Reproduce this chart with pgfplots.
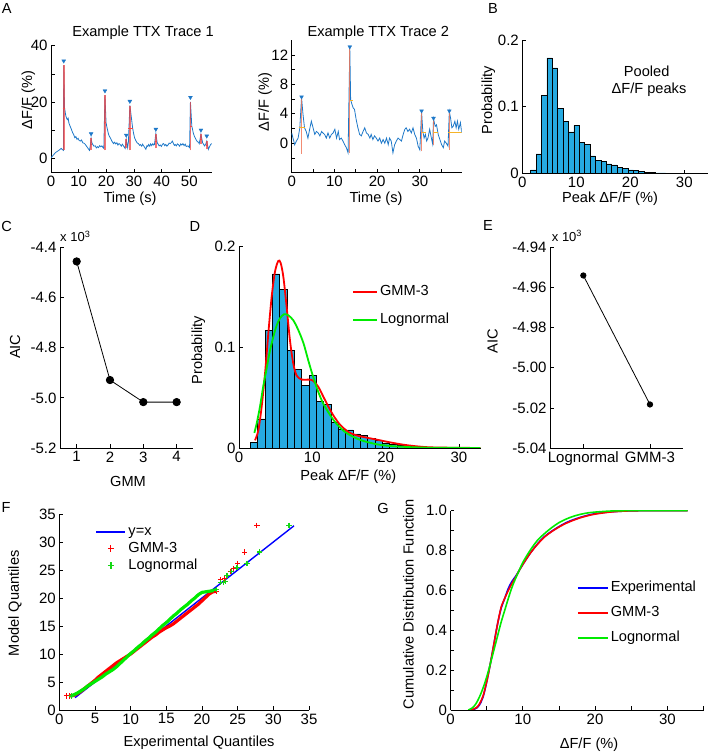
\documentclass[border=0pt]{standalone}
\usepackage{fontspec}
\setmainfont{Liberation Sans}
\usepackage{pgfplots}
\usepackage{pgfplotstable}
\pgfplotsset{compat=1.18}

\definecolor{tracecol}{RGB}{30,120,200}
\definecolor{promred}{RGB}{240,70,70}
\definecolor{promor}{RGB}{240,120,90}
\definecolor{promyel}{RGB}{245,180,40}
\definecolor{histcol}{RGB}{38,170,225}
\definecolor{gred}{RGB}{255,0,0}
\definecolor{ggreen}{RGB}{0,235,0}
\definecolor{gmark}{RGB}{20,215,20}
\definecolor{gblue}{RGB}{0,0,255}

\pgfplotstableread{
x y
2.05 0.0053
3.05 0.029
4.05 0.117
5.05 0.173
6.05 0.158
7.05 0.097
8.05 0.078
9.05 0.062
10.05 0.072
11.05 0.046
12.05 0.0435
13.05 0.026
14.05 0.019
15.05 0.018
16.05 0.014
17.05 0.0126
18.05 0.0093
19.05 0.0076
20.05 0.005
21.05 0.004
22.05 0.003
23.05 0.0017
24.05 0.001
25.05 0.0008
26.05 0.0005
27.05 0.0003
28.05 0.0002
29.05 0.0002
30.05 0.0001
31.05 0.0001
32.05 0.0002
}\histtable

\newcommand{\fs}{\fontsize{14.6}{17}\selectfont}
\newcommand{\ft}{\fontsize{15}{17}\selectfont}

\pgfplotsset{
  base/.style={
    scale only axis, anchor=south west,
    axis x line*=bottom, axis y line*=left,
    tick align=inside, major tick length=3.5pt,
    axis line style={line width=0.7pt, black},
    every tick/.style={line width=0.7pt, black},
    tick label style={font=\ft},
    legend cell align=left,
  },
  hist/.style={ybar, bar width=1, bar shift=0pt, fill=histcol, draw=black, line width=0.5pt},
}

\begin{document}
\begin{tikzpicture}[x=1pt,y=1pt,font=\fs]
\path[use as bounding box] (0,0) rectangle (708,752);

% ---------------- A: Trace 1
\begin{axis}[base, at={(51pt,579.3pt)}, width=161pt, height=127pt,
  xmin=0, xmax=58.2, ymin=-5, ymax=40,
  xtick={0,10,20,30,40,50}, xticklabels={0,10,20,30,40,50},
  ytick={0,10,20,30,40}, yticklabels={0,,20,,40}]
\addplot[tracecol, line width=0.8pt] coordinates {
(0.1,0.35)(0.8,1.2)(1.6,2.1)(2.2,2.5)(2.8,2.9)(3.3,3.3)(3.7,3.6)(4.1,3.2)(4.5,2.9)(4.6,33.0)(4.9,18.0)(5.2,16.0)(5.4,15.0)(5.7,14.2)(5.9,13.8)(6.2,14.3)(6.5,12.5)(6.9,11.5)(7.2,10.8)(7.4,10.3)(7.8,9.2)(8.2,8.5)(8.6,7.4)(9.0,7.8)(9.4,6.8)(9.8,7.2)(10.1,6.5)(10.6,6.2)(11.0,6.6)(11.5,5.6)(12.0,5.4)(12.4,5.0)(12.9,4.3)(13.4,3.6)(13.9,2.9)(14.2,4.5)(14.5,7.2)(14.8,5.5)(15.1,5.0)(15.5,4.4)(16.0,4.5)(16.4,3.8)(16.8,4.2)(17.2,3.9)(17.6,4.6)(18.0,4.2)(18.4,4.5)(18.8,3.9)(19.1,3.6)(19.5,22.4)(19.9,12.7)(20.2,11.2)(20.4,10.3)(20.8,8.6)(21.1,7.9)(21.4,7.4)(22.0,6.2)(22.6,5.3)(23.0,5.8)(23.4,5.2)(23.8,5.6)(24.2,4.8)(24.6,5.3)(25.0,5.0)(25.4,4.4)(25.8,5.1)(26.2,4.5)(26.8,3.6)(27.2,6.8)(27.7,3.9)(28.0,6.0)(28.5,18.8)(29.0,15.0)(29.5,10.9)(29.8,9.2)(30.2,7.4)(30.6,6.5)(31.1,5.6)(31.6,5.3)(32.0,4.7)(32.3,5.0)(32.8,4.4)(33.1,5.1)(33.5,4.5)(33.9,3.9)(34.3,3.3)(34.7,4.6)(35.0,4.3)(35.3,5.0)(35.7,4.4)(36.0,5.2)(36.4,4.6)(36.8,5.3)(37.1,4.8)(37.4,5.0)(37.9,8.8)(38.4,5.6)(38.8,5.0)(39.1,4.5)(39.5,4.8)(39.9,4.3)(40.3,5.1)(40.7,5.3)(41.1,4.6)(41.5,5.0)(41.9,4.4)(42.3,4.8)(42.7,5.5)(43.1,5.3)(43.5,5.7)(43.9,6.2)(44.3,5.2)(44.6,4.7)(44.9,5.0)(45.3,4.5)(45.7,5.2)(46.1,4.9)(46.5,4.4)(46.9,5.2)(47.3,4.8)(47.7,5.3)(48.1,4.6)(48.5,5.1)(48.9,4.3)(49.5,4.5)(50.1,3.9)(50.4,20.1)(50.9,11.5)(51.2,10.2)(51.4,9.2)(51.8,8.0)(52.1,7.4)(52.5,6.6)(52.9,6.0)(53.3,5.8)(53.6,5.3)(54.2,8.6)(54.8,5.6)(55.2,5.0)(55.5,4.5)(55.9,5.0)(56.3,6.2)(56.9,3.3)(57.3,4.2)(57.7,5.0)(58.1,5.3)};
\addplot[promred, opacity=0.75, line width=1.6pt] coordinates {(4.6,2.9)(4.6,33.0)};
\addplot[promred, opacity=0.75, line width=1.6pt] coordinates {(14.5,2.9)(14.5,7.2)};
\addplot[promred, opacity=0.75, line width=1.6pt] coordinates {(19.5,2.9)(19.5,22.4)};
\addplot[promred, opacity=0.75, line width=1.6pt] coordinates {(27.2,3.6)(27.2,6.8)};
\addplot[promred, opacity=0.75, line width=1.6pt] coordinates {(28.5,2.9)(28.5,18.8)};
\addplot[promred, opacity=0.75, line width=1.6pt] coordinates {(37.9,3.6)(37.9,8.8)};
\addplot[promred, opacity=0.75, line width=1.6pt] coordinates {(50.4,2.9)(50.4,20.1)};
\addplot[promred, opacity=0.75, line width=1.6pt] coordinates {(54.2,5.3)(54.2,8.6)};
\addplot[promred, opacity=0.75, line width=1.6pt] coordinates {(56.3,3.3)(56.3,6.2)};
\addplot[promred, line width=0.8pt] coordinates {(4.2,17.95)(5.1,17.95)};
\addplot[promred, line width=0.8pt] coordinates {(14.3,5.05)(14.8,5.05)};
\addplot[promred, line width=0.8pt] coordinates {(19.2,12.65)(20.0,12.65)};
\addplot[promred, line width=0.8pt] coordinates {(27.0,5.2)(27.4,5.2)};
\addplot[promred, line width=0.8pt] coordinates {(28.0,10.85)(29.5,10.85)};
\addplot[promred, line width=0.8pt] coordinates {(37.7,6.2)(38.2,6.2)};
\addplot[promred, line width=0.8pt] coordinates {(50.2,11.5)(51.0,11.5)};
\addplot[promred, line width=0.8pt] coordinates {(54.0,6.95)(54.5,6.95)};
\addplot[promred, line width=0.8pt] coordinates {(56.1,4.75)(56.6,4.75)};
\addplot[only marks, mark=triangle*, mark size=2.2pt, mark options={rotate=180, fill=tracecol, draw=tracecol}] coordinates {
(4.6,34.6)(14.5,8.8)(19.5,24.0)(27.2,8.3)(28.5,20.3)(37.9,10.4)(50.4,21.7)(54.2,10.1)(56.3,8.0)};
\end{axis}

% ---------------- A: Trace 2
\begin{axis}[base, at={(291.7pt,579.3pt)}, width=170pt, height=132.5pt,
  xmin=0, xmax=39.8, ymin=-4, ymax=14,
  xtick={0,5,10,15,20,25,30,35}, xticklabels={0,,10,,20,,30,},
  ytick={-2,0,2,4,6,8,10,12}, yticklabels={,0,,4,,8,,12}]
\addplot[tracecol, line width=0.8pt] coordinates {
(0,1.4)(0.3,0.7)(0.7,-0.2)(1.1,0.3)(1.5,0.7)(1.9,2.1)(2.3,6.2)(2.65,3.9)(3.0,2.1)(3.4,1.6)(3.8,0.7)(4.2,1.9)(4.6,3.0)(5.0,2.1)(5.4,1.2)(5.8,1.6)(6.2,1.4)(6.6,1.0)(7.0,1.6)(7.3,1.4)(7.7,1.2)(8.1,0.7)(8.5,1.4)(8.9,0.7)(9.3,1.2)(9.7,1.4)(10.1,1.9)(10.5,0.7)(10.9,1.6)(11.2,0.5)(11.6,0.7)(12.0,0.3)(12.4,-0.2)(12.8,-0.6)(13.2,-1.3)(13.6,13.0)(13.8,5.9)(14.1,5.3)(14.4,4.8)(14.7,4.6)(15.1,3.2)(15.5,2.1)(15.9,1.2)(16.3,1.0)(16.7,1.6)(17.1,2.1)(17.5,1.4)(17.9,1.2)(18.3,0.7)(18.6,1.2)(19.0,0.5)(19.4,1.0)(19.8,0.7)(20.2,0.3)(20.6,0.7)(21.0,0.0)(21.4,0.5)(21.8,0.0)(22.2,0.7)(22.6,-0.2)(22.9,0.7)(23.3,0.3)(23.7,-1.3)(24.1,-0.2)(24.5,0.3)(24.9,0.7)(25.3,0.5)(25.7,0.3)(26.1,1.2)(26.5,1.9)(26.8,2.1)(27.2,1.6)(27.6,1.9)(28.0,1.4)(28.4,2.1)(28.8,1.2)(29.2,0.7)(29.6,-0.4)(30.0,-0.9)(30.4,4.3)(30.7,1.6)(31.0,0.7)(31.3,1.2)(31.6,0.3)(31.9,0.7)(32.3,1.9)(32.7,0.7)(33.0,-0.1)(33.2,3.3)(33.6,2.3)(33.9,2.5)(34.3,1.2)(34.7,0.5)(35.1,-0.2)(35.5,-0.6)(35.8,0.3)(36.2,0.0)(36.6,-0.4)(36.9,4.3)(37.2,3.4)(37.5,2.1)(37.8,2.3)(38.2,3.0)(38.5,2.1)(38.8,3.0)(39.1,1.9)(39.5,2.8)(39.8,1.4)};
\addplot[promor, opacity=0.85, line width=1.2pt] coordinates {(2.3,-1.45)(2.3,6.2)};
\addplot[promor, opacity=0.85, line width=1.2pt] coordinates {(13.6,-1.3)(13.6,13.0)};
\addplot[promor, opacity=0.85, line width=1.2pt] coordinates {(30.4,-1.1)(30.4,4.3)};
\addplot[promor, opacity=0.85, line width=1.2pt] coordinates {(33.2,-0.2)(33.2,3.3)};
\addplot[promor, opacity=0.85, line width=1.2pt] coordinates {(36.9,-0.9)(36.9,4.3)};
\addplot[promyel, line width=1pt] coordinates {(1.6,2.2)(3.0,2.2)};
\addplot[promyel, line width=1pt] coordinates {(13.6,5.8)(14.4,5.8)};
\addplot[promyel, line width=1pt] coordinates {(30.4,1.5)(31.5,1.5)};
\addplot[promyel, line width=1pt] coordinates {(33.1,1.4)(34.3,1.4)};
\addplot[promyel, line width=1pt] coordinates {(36.6,1.5)(39.8,1.5)};
\addplot[only marks, mark=triangle*, mark size=2.2pt, mark options={rotate=180, fill=tracecol, draw=tracecol}] coordinates {
(2.3,6.3)(13.6,13.1)(30.4,4.4)(33.2,3.4)(36.9,4.4)};
\end{axis}

% ---------------- B
\begin{axis}[base, at={(522.3pt,578.7pt)}, width=186.3pt, height=133.3pt,
  xmin=0, xmax=34.5, ymin=0, ymax=0.2,
  xtick={0,10,20,30}, xticklabels={0,10,20,30},
  ytick={0,0.1,0.2}, yticklabels={0,0.1,0.2}]
\addplot[hist] table[x=x,y=y] {\histtable};
\end{axis}

% ---------------- C
\begin{axis}[base, at={(60pt,304pt)}, width=133.3pt, height=200.6pt,
  xmin=0.5, xmax=4.5, ymin=-5.2, ymax=-4.4,
  xtick={1,2,3,4}, xticklabels={1,2,3,4},
  ytick={-5.2,-5.0,-4.8,-4.6,-4.4}, yticklabels={-5.2,-5.0,-4.8,-4.6,-4.4}, clip=false]
\addplot[black, line width=0.8pt, mark=*, mark size=3.7pt, mark options={fill=black}] coordinates {(1,-4.456)(2,-4.929)(3,-5.017)(4,-5.017)};
\end{axis}

% ---------------- D
\begin{axis}[base, at={(239pt,304pt)}, width=242pt, height=201.2pt,
  xmin=0, xmax=33, ymin=0, ymax=0.2,
  xtick={0,10,20,30}, xticklabels={0,10,20,30},
  ytick={0,0.1,0.2}, yticklabels={0,0.1,0.2},
  legend style={draw=none, fill=none, at={(0.455,0.83)}, anchor=north west, row sep=11pt,
    nodes={inner sep=2pt, text height=10pt, text depth=3pt}, font=\fs},
  legend image code/.code={\draw[#1] (0pt,0pt) -- (24pt,0pt);}]
\addplot[hist, forget plot] table[x=x,y=y] {\histtable};
\addplot[gred, line width=1.8pt, smooth] coordinates {
(2.18,0.0076)(2.64,0.0176)(3.09,0.041)(3.55,0.074)(4.0,0.114)(4.45,0.150)(4.9,0.175)(5.36,0.186)(5.68,0.184)(6.05,0.170)(6.5,0.140)(6.95,0.107)(7.4,0.084)(7.86,0.072)(8.55,0.068)(9.45,0.068)(10.1,0.067)(10.8,0.061)(11.5,0.051)(12.2,0.041)(12.9,0.032)(13.8,0.023)(14.9,0.016)(16.0,0.0126)(17.4,0.0103)(18.8,0.0083)(20.6,0.0056)(22.4,0.0033)(24.2,0.0017)(26,0.0007)(28.8,0.0003)(32.9,0.0)};
\addlegendentry{GMM-3}
\addplot[ggreen, line width=1.8pt, smooth] coordinates {
(2.09,0.015)(2.4,0.024)(2.86,0.041)(3.3,0.061)(3.77,0.079)(4.2,0.096)(4.7,0.111)(5.14,0.122)(5.6,0.129)(6.14,0.133)(6.7,0.132)(7.4,0.127)(8.1,0.117)(8.8,0.104)(9.45,0.087)(10.1,0.071)(10.8,0.056)(11.5,0.044)(12.4,0.033)(13.3,0.024)(14.45,0.016)(15.6,0.011)(16.95,0.007)(18.8,0.0037)(20.6,0.002)(22.9,0.001)(26,0.0003)(32.9,0.0)};
\addlegendentry{Lognormal}
\end{axis}

% ---------------- E
\begin{axis}[base, at={(550pt,304pt)}, width=133.3pt, height=200.6pt,
  xmin=0.5, xmax=2.5, ymin=-5.04, ymax=-4.94,
  xtick={1,2}, xticklabels={Lognormal,GMM-3},
  ytick={-5.04,-5.02,-5.00,-4.98,-4.96,-4.94}, yticklabels={-5.04,-5.02,-5.00,-4.98,-4.96,-4.94}, clip=false]
\addplot[black, line width=0.8pt, mark=*, mark size=2.7pt, mark options={fill=black}] coordinates {(1,-4.954)(2,-5.0183)};
\end{axis}

% ---------------- F
\begin{axis}[base, at={(59.3pt,42pt)}, width=249.7pt, height=196pt,
  xmin=0, xmax=35, ymin=0, ymax=35,
  xtick={0,5,10,15,20,25,30,35}, xticklabels={0,5,10,15,20,25,30,35},
  ytick={0,5,10,15,20,25,30,35}, yticklabels={0,5,10,15,20,25,30,35},
  legend style={draw=none, fill=none, at={(0.132,0.965)}, anchor=north west, row sep=0pt,
    nodes={inner sep=2pt, text height=10pt, text depth=3pt}, font=\fs},
  legend image code/.code={\draw[mark repeat=2, mark phase=2, #1] plot coordinates {(0pt,0pt) (14.5pt,0pt) (29pt,0pt)};}]
\addlegendimage{legend image code/.code={\draw[color=gblue, line width=2pt] (0pt,0pt) -- (29pt,0pt);}}
\addlegendentry{y=x}
\addlegendimage{only marks, mark=+, gred, mark size=3.2pt, mark options={line width=1pt}}
\addlegendentry{GMM-3}
\addlegendimage{only marks, mark=+, gmark, mark size=3.2pt, mark options={line width=1.2pt}}
\addlegendentry{Lognormal}
\addplot[color=gblue, line width=1.4pt, forget plot] coordinates {(2.2,2.2)(32.9,32.9)};
\addplot[color=gred, line width=3.2pt, forget plot] coordinates {
(1.4,2.5)(2.0,2.6)(2.5,2.9)(3.0,3.3)(3.5,3.8)(4.0,4.3)(4.5,4.8)(5.0,5.3)(5.5,5.9)(6.0,6.4)(6.5,6.9)(7.0,7.4)(7.5,7.9)(8.0,8.4)(8.5,8.8)(9.0,9.2)(9.5,9.6)(10,10.0)(10.5,10.5)(11,11.0)(11.5,11.5)(12,12.0)(12.5,12.5)(13,13.0)(13.5,13.4)(14,13.9)(14.5,14.3)(15,14.7)(15.5,15.0)(16,15.4)(16.5,15.9)(17,16.4)(17.5,16.9)(18,17.4)(18.5,17.9)(19,18.4)(19.5,18.9)(20,19.5)(20.5,20.1)(21,20.7)(21.5,21.1)(22,21.2)};
\addplot[only marks, mark=+, gred, mark size=2.6pt, mark options={line width=1pt}, forget plot] coordinates {
(1.0,2.5)(1.4,2.5)(22.0,21.2)(22.6,23.3)(23.2,23.5)(24.0,24.8)(24.4,25.3)(25.0,26.2)(26.0,28.2)(27.7,33.0)};
\addplot[color=ggreen, line width=3.2pt, forget plot] coordinates {
(1.7,2.5)(2.0,2.7)(2.5,3.0)(3.0,3.4)(3.5,3.8)(4.0,4.3)(4.5,4.7)(5.0,5.1)(5.5,5.5)(6.0,5.9)(6.5,6.4)(7.0,6.8)(7.5,7.2)(8,7.7)(8.5,8.3)(9,8.9)(9.5,9.5)(10,10.1)(10.5,10.6)(11,11.2)(11.5,11.7)(12,12.3)(12.5,12.8)(13,13.4)(13.5,13.9)(14,14.5)(14.5,15.1)(15,15.6)(15.5,16.2)(16,16.8)(16.5,17.3)(17,17.9)(17.5,18.4)(18,18.9)(18.5,19.5)(19,20.0)(19.5,20.6)(20,21.0)(20.5,21.1)(21,21.2)(21.5,21.3)(22,21.5)};
\addplot[only marks, mark=+, gmark, mark size=2.6pt, mark options={line width=1.2pt}, forget plot] coordinates {
(1.7,2.5)(22.0,21.5)(22.6,22.7)(23.0,22.8)(23.3,22.9)(23.5,24.0)(24.1,24.8)(24.9,25.4)(26.3,26.2)(28.1,28.2)(32.2,33.0)};
\end{axis}

% ---------------- G
\begin{axis}[base, at={(450.5pt,42pt)}, width=253pt, height=199.3pt,
  xmin=0, xmax=35, ymin=0, ymax=1,
  xtick={0,5,10,15,20,25,30,35}, xticklabels={0,,10,,20,,30,},
  ytick={0,0.1,0.2,0.3,0.4,0.5,0.6,0.7,0.8,0.9,1.0}, yticklabels={0,,0.2,,0.4,,0.6,,0.8,,1.0},
  legend style={draw=none, fill=none, at={(0.488,0.665)}, anchor=north west, row sep=8pt,
    nodes={inner sep=2pt, text height=10pt, text depth=3pt}, font=\fs},
  legend image code/.code={\draw[#1] (0pt,0pt) -- (30pt,0pt);}]
\addplot[gblue, line width=1.6pt, smooth] coordinates {
(2.9,0)(3.3,0.004)(3.7,0.012)(4.0,0.025)(4.5,0.065)(5.0,0.14)(5.5,0.23)(6.0,0.33)(6.5,0.43)(7.0,0.51)(7.5,0.56)(8.0,0.61)(8.5,0.645)(9.0,0.67)(9.5,0.7)(10,0.73)(11,0.785)(12,0.832)(13,0.87)(14,0.897)(15,0.92)(16,0.94)(17,0.955)(18,0.967)(19,0.977)(20,0.985)(22,0.994)(24,0.998)(26,1.0)(32.8,1.0)};
\addlegendentry{Experimental}
\addplot[gred, line width=1.6pt, smooth] coordinates {
(2.8,0.0)(3.2,0.005)(3.6,0.012)(4.0,0.03)(4.5,0.07)(5.0,0.14)(5.5,0.23)(6.0,0.33)(6.5,0.43)(7.0,0.515)(7.5,0.56)(8.0,0.6)(8.5,0.635)(9.0,0.665)(9.5,0.7)(10,0.73)(11,0.785)(12,0.83)(13,0.868)(14,0.895)(15,0.918)(16,0.937)(17,0.952)(18,0.965)(19,0.975)(20,0.983)(22,0.993)(24,0.998)(26,1.0)(32.8,1.0)};
\addlegendentry{GMM-3}
\addplot[ggreen, line width=1.6pt, smooth] coordinates {
(2.45,0.0)(3.0,0.01)(3.5,0.03)(4.0,0.065)(4.5,0.11)(5.0,0.165)(5.5,0.23)(6.0,0.3)(6.5,0.37)(7.0,0.44)(7.5,0.5)(8.0,0.56)(8.5,0.615)(9.0,0.66)(9.5,0.7)(10.0,0.74)(11,0.8)(12,0.85)(13,0.885)(14,0.915)(15,0.94)(16,0.958)(17,0.972)(18,0.982)(19,0.989)(20,0.993)(22,0.998)(24,1.0)(32.8,1.0)};
\addlegendentry{Lognormal}
\end{axis}

% ---------------- text
\node at (143,719) {Example TTX Trace 1};
\node at (378.3,719.7) {Example TTX Trace 2};
\node[rotate=90] at (28.3,652) {ΔF/F (\%)};
\node[rotate=90] at (265,650) {ΔF/F (\%)};
\node at (130,553) {Time (s)};
\node at (376,553) {Time (s)};
\node[rotate=90] at (488.3,652) {Probability};
\node at (610,553) {Peak ΔF/F (\%)};
\node at (646.7,681) {Pooled};
\node at (649,662.7) {ΔF/F peaks};
\node[rotate=90] at (15,405.3) {AIC};
\node at (128,270.3) {GMM};
\node[anchor=west, inner sep=0pt] at (60,515.3) {\fontsize{13}{15}\selectfont x 10\textsuperscript{3}};
\node[rotate=90] at (198.3,402) {Probability};
\node at (348.3,275.3) {Peak ΔF/F (\%)};
\node[rotate=90] at (492.5,411) {AIC};
\node[anchor=west, inner sep=0pt] at (551.7,516) {\fontsize{13}{15}\selectfont x 10\textsuperscript{3}};
\node[rotate=90] at (15,148.7) {Model Quantiles};
\node at (199,9.3) {Experimental Quantiles};
\node[rotate=90] at (408.3,148) {Cumulative Distribution Function};
\node at (589,7) {ΔF/F (\%)};
\node at (6.7,743.7) {A};
\node at (493,743.7) {B};
\node at (6.7,526) {C};
\node at (195,526) {D};
\node at (488,526.5) {E};
\node at (6,245) {F};
\node at (383,244) {G};
\end{tikzpicture}
\end{document}
